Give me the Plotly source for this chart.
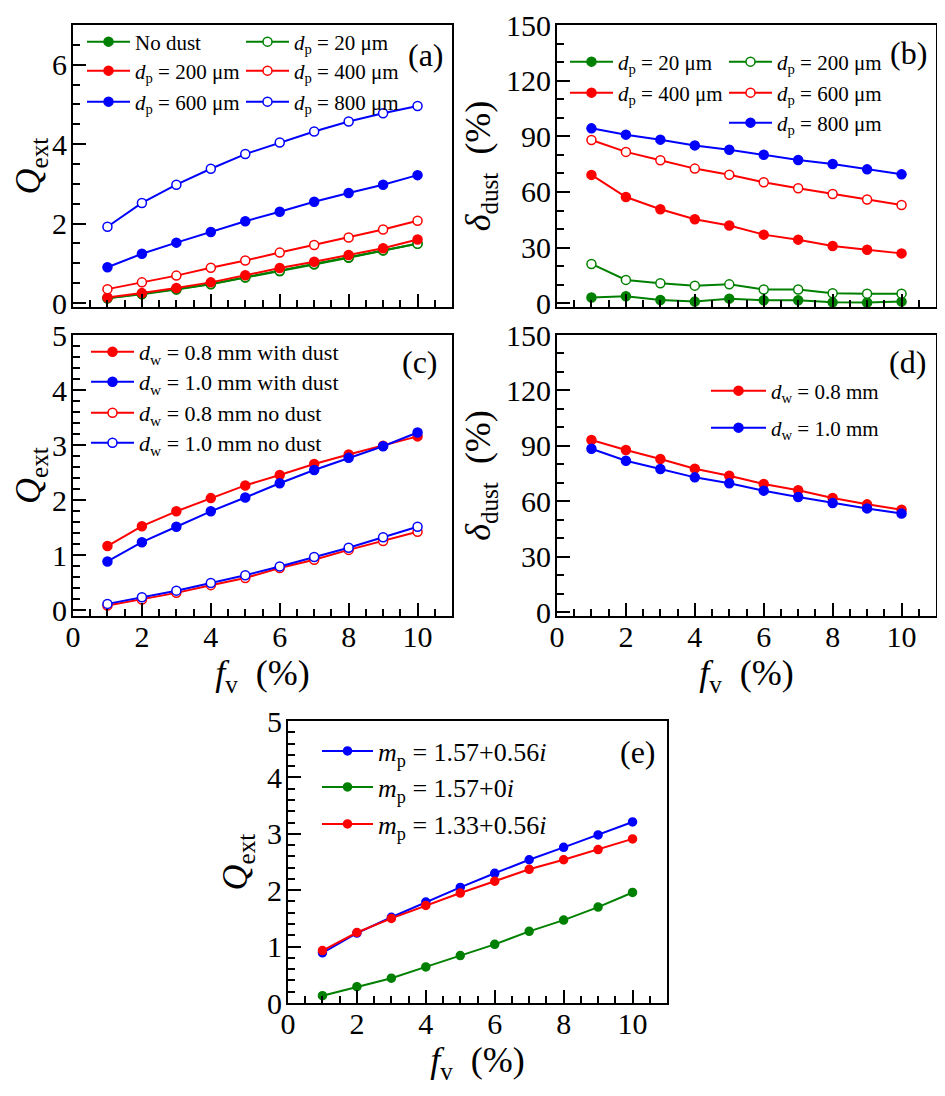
import plotly.graph_objects as go

# Page body has an 8px margin; the figure is sized to fit the 945x1096 window.
OFF = 8
FW, FH = 945 - OFF, 1096 - OFF
SERIF = "Liberation Serif"
GREEN, RED, BLUE = "#008000", "#ff0000", "#0000ff"

fv = [1, 2, 3, 4, 5, 6, 7, 8, 9, 10]

# Panel (a): Q_ext vs f_v for different particle sizes
qa_nodust = [0.12, 0.22, 0.34, 0.47, 0.64, 0.80, 0.97, 1.14, 1.32, 1.50]
qa_20 = [0.12, 0.23, 0.35, 0.48, 0.65, 0.81, 0.98, 1.15, 1.33, 1.49]
qa_200 = [0.14, 0.25, 0.38, 0.52, 0.70, 0.88, 1.04, 1.21, 1.38, 1.60]
qa_400 = [0.35, 0.52, 0.69, 0.89, 1.07, 1.27, 1.46, 1.65, 1.85, 2.07]
qa_600 = [0.90, 1.24, 1.52, 1.79, 2.06, 2.30, 2.55, 2.77, 2.98, 3.22]
qa_800 = [1.92, 2.52, 2.98, 3.38, 3.75, 4.04, 4.32, 4.57, 4.78, 4.96]

# Panel (b): delta_dust (%)
db_20 = [3.1, 3.8, 1.8, 0.9, 2.5, 1.6, 1.6, 0.5, 0.4, 0.9]
db_200 = [21.2, 12.6, 10.8, 9.5, 10.2, 7.4, 7.4, 5.4, 5.2, 5.2]
db_400 = [69.2, 57.3, 50.7, 45.3, 41.9, 37.0, 34.3, 30.9, 28.9, 26.9]
db_600 = [88.0, 81.6, 77.1, 72.6, 69.3, 65.2, 62.0, 58.9, 55.9, 53.0]
db_800 = [94.3, 90.9, 88.2, 85.1, 82.8, 80.1, 77.2, 75.1, 72.2, 69.5]

# Panel (c): Q_ext for droplet sizes
qc_08_dust = [1.17, 1.53, 1.80, 2.04, 2.27, 2.46, 2.66, 2.83, 2.99, 3.16]
qc_10_dust = [0.89, 1.24, 1.52, 1.80, 2.05, 2.31, 2.55, 2.77, 2.98, 3.23]
qc_08_nodust = [0.09, 0.20, 0.32, 0.46, 0.59, 0.77, 0.92, 1.10, 1.26, 1.43]
qc_10_nodust = [0.12, 0.24, 0.36, 0.50, 0.64, 0.80, 0.97, 1.14, 1.33, 1.52]

# Panel (d): delta_dust (%) for droplet sizes
dd_08 = [93.2, 87.8, 82.9, 77.7, 73.9, 69.4, 66.0, 61.8, 58.4, 55.5]
dd_10 = [88.5, 82.0, 77.5, 73.0, 69.8, 65.8, 62.4, 59.1, 56.2, 53.4]

# Panel (e): Q_ext for refractive indices
qe_157_056 = [0.89, 1.24, 1.52, 1.79, 2.05, 2.30, 2.54, 2.76, 2.98, 3.21]
qe_157_0 = [0.13, 0.29, 0.44, 0.64, 0.84, 1.04, 1.27, 1.47, 1.70, 1.96]
qe_133_056 = [0.93, 1.25, 1.50, 1.73, 1.95, 2.16, 2.37, 2.54, 2.72, 2.91]


def PX(px):
    return (px - OFF) / FW


def PY(py):
    return 1 - (py - OFF) / FH


fig = go.Figure()
legend_layouts = {}
counter = [1]


def add_series(xa, ya, y, name, color, hollow, lx, ly, fsize, iw, msize=9):
    counter[0] += 1
    key = f"legend{counter[0]}"
    fig.add_trace(go.Scatter(
        x=fv, y=y, xaxis=xa, yaxis=ya, name=name, legend=key,
        mode="lines+markers",
        line=dict(color=color, width=2),
        marker=dict(size=msize, color="white" if hollow else color,
                    line=dict(color=color, width=1.5)),
    ))
    legend_layouts[key] = dict(
        x=PX(lx - 5), y=PY(ly), xanchor="left", yanchor="middle",
        bgcolor="rgba(0,0,0,0)", borderwidth=0,
        font=dict(family=SERIF, size=fsize, color="black"),
        itemwidth=iw,
    )


def dp(v):
    return f"<i>d</i><sub>p</sub> = {v} μm"


def dw(v, extra=""):
    return f"<i>d</i><sub>w</sub> = {v} mm{extra}"


def mp(v):
    return f"<i>m</i><sub>p</sub> = {v}"


# (a)
add_series("x", "y", qa_nodust, "No dust", GREEN, False, 87, 42, 21, 43)
add_series("x", "y", qa_20, dp(20), GREEN, True, 246, 42, 21, 43)
add_series("x", "y", qa_200, dp(200), RED, False, 87, 71, 21, 43)
add_series("x", "y", qa_400, dp(400), RED, True, 246, 71, 21, 43)
add_series("x", "y", qa_600, dp(600), BLUE, False, 87, 102, 21, 43)
add_series("x", "y", qa_800, dp(800), BLUE, True, 246, 102, 21, 43)
# (b)
add_series("x2", "y2", db_20, dp(20), GREEN, False, 570, 62, 21, 43)
add_series("x2", "y2", db_200, dp(200), GREEN, True, 729, 62, 21, 43)
add_series("x2", "y2", db_400, dp(400), RED, False, 570, 93, 21, 43)
add_series("x2", "y2", db_600, dp(600), RED, True, 729, 93, 21, 43)
add_series("x2", "y2", db_800, dp(800), BLUE, False, 729, 123, 21, 43)
# (c)
add_series("x3", "y3", qc_08_dust, dw("0.8", " with dust"), RED, False, 91, 352, 22, 43)
add_series("x3", "y3", qc_10_dust, dw("1.0", " with dust"), BLUE, False, 91, 382, 22, 43)
add_series("x3", "y3", qc_08_nodust, dw("0.8", " no dust"), RED, True, 91, 413, 22, 43)
add_series("x3", "y3", qc_10_nodust, dw("1.0", " no dust"), BLUE, True, 91, 443, 22, 43)
# (d)
add_series("x4", "y4", dd_08, dw("0.8"), RED, False, 711, 391, 21, 55)
add_series("x4", "y4", dd_10, dw("1.0"), BLUE, False, 711, 428, 21, 55)
# (e)
add_series("x5", "y5", qe_157_056, mp("1.57+0.56<i>i</i>"), BLUE, False, 322, 751, 26, 51, 8)
add_series("x5", "y5", qe_157_0, mp("1.57+0<i>i</i>"), GREEN, False, 322, 787, 26, 51, 8)
add_series("x5", "y5", qe_133_056, mp("1.33+0.56<i>i</i>"), RED, False, 322, 824, 26, 51, 8)

tickfont = dict(family=SERIF, size=30, color="black")
titlefont = dict(family=SERIF, size=36, color="black")


def base_axis(**kw):
    d = dict(showline=True, linecolor="black", linewidth=2, mirror=True,
             ticks="inside", ticklen=13, tickwidth=2, tickcolor="black",
             showgrid=False, zeroline=False, tickfont=tickfont, automargin=False)
    d.update(kw)
    return d


def xaxis(domain, anchor, labels, title=None):
    return base_axis(domain=domain, anchor=anchor, range=[0, 11], tick0=0, dtick=2,
                     showticklabels=labels, ticklabelstandoff=-7,
                     minor=dict(ticks="inside", ticklen=7, tickwidth=1.5, tickcolor="black",
                                dtick=0.5, tick0=0, showgrid=False),
                     title=dict(text=title, font=titlefont, standoff=2) if title else None)


def yaxis(domain, anchor, rng, dtick, mdtick, title, standoff):
    return base_axis(domain=domain, anchor=anchor, range=rng, tick0=0, dtick=dtick,
                     ticklabelstandoff=-2,
                     minor=dict(ticks="inside", ticklen=7, tickwidth=1.5, tickcolor="black",
                                dtick=mdtick, tick0=0, showgrid=False),
                     title=dict(text=title, font=titlefont, standoff=standoff))


xa = [PX(73), PX(452)]
xb = [PX(557), PX(936)]
xe = [PX(288), PX(667)]
ytop = [PY(307), PY(25)]
ymid = [PY(616), PY(335)]
ybot = [PY(1003), PY(721)]

QEXT = "<i>Q</i><sub>ext</sub>"
DELTA = "<i>δ</i><sub>dust</sub>  (%)"
FV = "<i>f</i><sub>v</sub>  (%)"

layout = dict(
    template="none",
    width=FW, height=FH,
    margin=dict(l=0, r=0, t=0, b=0, autoexpand=False),
    paper_bgcolor="white", plot_bgcolor="white",
    font=dict(family=SERIF, color="black"),
    showlegend=True,
    xaxis=xaxis(xa, "y", False),
    yaxis=yaxis(ytop, "x", [-0.1, 7], 2, 0.5, QEXT, 8),
    xaxis2=xaxis(xb, "y2", False),
    yaxis2=yaxis(ytop, "x2", [-2, 150], 30, 10, DELTA, 4),
    xaxis3=xaxis(xa, "y3", True, FV),
    yaxis3=yaxis(ymid, "x3", [-0.1, 5], 1, 0.2, QEXT, 8),
    xaxis4=xaxis(xb, "y4", True, FV),
    yaxis4=yaxis(ymid, "x4", [-2, 150], 30, 10, DELTA, 4),
    xaxis5=xaxis(xe, "y5", True, FV),
    yaxis5=yaxis(ybot, "x5", [0, 5], 1, 0.2, QEXT, 8),
    annotations=[
        dict(text=t, x=PX(px), y=PY(py), xref="paper", yref="paper",
             xanchor="center", yanchor="middle", showarrow=False,
             font=dict(family=SERIF, size=32, color="black"))
        for t, px, py in [("(a)", 426, 55), ("(b)", 908, 53), ("(c)", 420, 362),
                          ("(d)", 907, 362), ("(e)", 638, 752)]
    ],
)
layout.update(legend_layouts)
fig.update_layout(**layout)

fig.write_html("out.html")
